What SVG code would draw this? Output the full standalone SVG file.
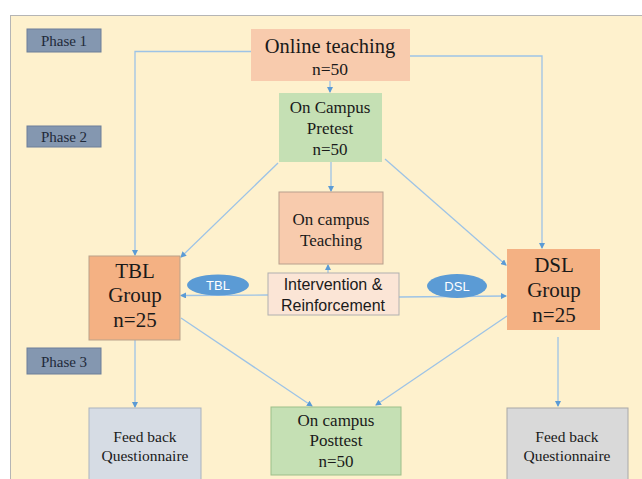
<svg xmlns="http://www.w3.org/2000/svg" width="642" height="479" viewBox="0 0 642 479">
<style>
.serif{font-family:"Liberation Serif","Times New Roman",serif;fill:#1a1a1a;text-anchor:middle}
.sans{font-family:"Liberation Sans",Arial,sans-serif;fill:#1a1a1a;text-anchor:middle}
.phase rect{fill:#8497B0;stroke:#6d7f99;stroke-width:1}
.phase text{font-family:"Liberation Serif",serif;font-size:15px;fill:#1f2a3a;text-anchor:middle}
.conn{fill:none;stroke:#9DC3E6;stroke-width:1.3}
.ell{fill:#5B9BD5}
.ellt{font-family:"Liberation Sans",Arial,sans-serif;font-size:13px;fill:#ffffff;text-anchor:middle}
</style>
<defs>
<marker id="ah" markerWidth="6" markerHeight="6" refX="5" refY="3" orient="auto" markerUnits="userSpaceOnUse">
<path d="M0,0 L6,3 L0,6 z" fill="#5B9BD5"/>
</marker>
</defs>
<rect x="0" y="0" width="642" height="479" fill="#ffffff"/>
<rect x="10.5" y="15.5" width="640" height="470" fill="#FEF1CD" stroke="#b5b5b5" stroke-width="1"/>

<g id="phase1" class="phase"><rect x="27" y="29" width="74" height="23"/><text x="64" y="46">Phase 1</text></g>
<g id="phase2" class="phase"><rect x="27" y="126" width="74" height="21"/><text x="64" y="142">Phase 2</text></g>
<g id="phase3" class="phase"><rect x="27" y="348" width="74" height="26"/><text x="64" y="367">Phase 3</text></g>

<g id="connectors">
<polyline class="conn" points="251,51.5 135,51.5 135,255" marker-end="url(#ah)"/>
<polyline class="conn" points="410,56 542,56 542,248" marker-end="url(#ah)"/>
<line class="conn" x1="330" y1="81" x2="330" y2="92" marker-end="url(#ah)"/>
<line class="conn" x1="331" y1="153" x2="331" y2="191" marker-end="url(#ah)"/>
<line class="conn" x1="328" y1="273" x2="328" y2="265" marker-end="url(#ah)"/>
<line class="conn" x1="278" y1="163" x2="181" y2="257" marker-end="url(#ah)"/>
<line class="conn" x1="385" y1="159" x2="506" y2="265" marker-end="url(#ah)"/>
<line class="conn" x1="268" y1="295" x2="181" y2="295.5" marker-end="url(#ah)"/>
<line class="conn" x1="399" y1="297" x2="506" y2="296" marker-end="url(#ah)"/>
<line class="conn" x1="135" y1="340" x2="135" y2="407" marker-end="url(#ah)"/>
<line class="conn" x1="181" y1="318" x2="312" y2="406" marker-end="url(#ah)"/>
<line class="conn" x1="507" y1="316" x2="376" y2="405" marker-end="url(#ah)"/>
<line class="conn" x1="558" y1="337" x2="558" y2="406" marker-end="url(#ah)"/>
</g>

<g id="tbl-label"><ellipse class="ell" cx="218" cy="285" rx="31" ry="10.5"/><text class="ellt" x="218" y="289.5">TBL</text></g>
<g id="dsl-label"><ellipse class="ell" cx="457" cy="286" rx="30" ry="12"/><text class="ellt" x="457" y="290.5">DSL</text></g>

<g id="online">
<rect x="251" y="29" width="159" height="52" fill="#F8CBAD"/>
<text class="serif" x="330" y="53" font-size="20.5">Online teaching</text>
<text class="serif" x="330" y="75" font-size="17.5">n=50</text>
</g>
<g id="pretest">
<rect x="279" y="93" width="103" height="69" fill="#C5E0B4"/>
<text class="serif" x="330" y="113" font-size="17">On Campus</text>
<text class="serif" x="330" y="133.5" font-size="17">Pretest</text>
<text class="serif" x="330" y="154.5" font-size="17">n=50</text>
</g>
<g id="teaching">
<rect x="279" y="192" width="104" height="72" fill="#F8CBAD" stroke="#b8a08e" stroke-width="1"/>
<text class="serif" x="331" y="225" font-size="17">On campus</text>
<text class="serif" x="331" y="246" font-size="17">Teaching</text>
</g>
<g id="intervention">
<rect x="268" y="273" width="131" height="42" fill="#FBE5D6" stroke="#b0b0b0" stroke-width="1"/>
<text class="sans" x="333" y="290" font-size="16">Intervention &amp;</text>
<text class="sans" x="333" y="310.5" font-size="16">Reinforcement</text>
</g>
<g id="tbl">
<rect x="89" y="256" width="91" height="84" fill="#F4B183" stroke="#b9a28a" stroke-width="1"/>
<text class="serif" x="135" y="278" font-size="21">TBL</text>
<text class="serif" x="135" y="302" font-size="21">Group</text>
<text class="serif" x="135" y="327" font-size="21">n=25</text>
</g>
<g id="dsl">
<rect x="507" y="249" width="93" height="81" fill="#F4B183"/>
<text class="serif" x="554" y="272" font-size="21">DSL</text>
<text class="serif" x="554" y="297" font-size="21">Group</text>
<text class="serif" x="554" y="322" font-size="21">n=25</text>
</g>
<g id="feedback-left">
<rect x="89" y="408" width="112" height="75" fill="#D6DCE4" stroke="#a9b3bf" stroke-width="1"/>
<text class="serif" x="145" y="442" font-size="15.5">Feed back</text>
<text class="serif" x="145" y="461" font-size="15.5">Questionnaire</text>
</g>
<g id="posttest">
<rect x="271" y="407" width="130" height="68" fill="#C5E0B4" stroke="#9cbf8a" stroke-width="1"/>
<text class="serif" x="336" y="426" font-size="17">On campus</text>
<text class="serif" x="336" y="446" font-size="17">Posttest</text>
<text class="serif" x="336" y="467" font-size="17">n=50</text>
</g>
<g id="feedback-right">
<rect x="507" y="408" width="121" height="75" fill="#D9D9D9" stroke="#a8a8a8" stroke-width="1"/>
<text class="serif" x="567" y="442" font-size="15.5">Feed back</text>
<text class="serif" x="567" y="461" font-size="15.5">Questionnaire</text>
</g>
</svg>
